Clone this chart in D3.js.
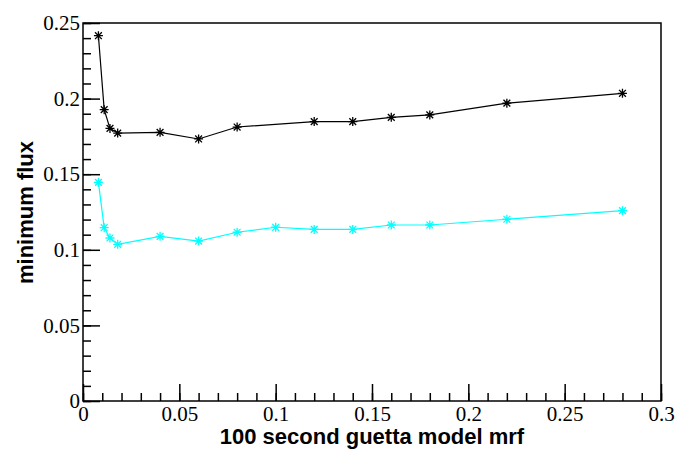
<!DOCTYPE html>
<html><head><meta charset="utf-8">
<script src="https://cdn.jsdelivr.net/npm/d3@7"></script>
<style>body{margin:0;background:#fff}svg{display:block}</style>
</head><body>
<svg id="c" width="696" height="472"></svg>
<script>
const xBlack = [0.008, 0.011, 0.014, 0.018, 0.04, 0.06, 0.08, 0.12, 0.14, 0.16, 0.18, 0.22, 0.28];
const yBlack = [0.2416, 0.1927, 0.1803, 0.1772, 0.1777, 0.1733, 0.1812, 0.1848, 0.1848, 0.1876, 0.1892, 0.197, 0.2035];
const xCyan = [0.008, 0.011, 0.014, 0.018, 0.04, 0.06, 0.08, 0.1, 0.12, 0.14, 0.16, 0.18, 0.22, 0.28];
const yCyan = [0.1446, 0.1146, 0.1078, 0.1036, 0.1089, 0.1058, 0.1116, 0.1149, 0.1135, 0.1135, 0.1164, 0.1164, 0.1202, 0.1259];
const xTicks = [0, 0.05, 0.1, 0.15, 0.2, 0.25, 0.3];
const xTickLabels = ["0", "0.05", "0.1", "0.15", "0.2", "0.25", "0.3"];
const yTicks = [0, 0.05, 0.1, 0.15, 0.2, 0.25];
const yTickLabels = ["0", "0.05", "0.1", "0.15", "0.2", "0.25"];
const xLabel = "100 second guetta model mrf";
const yLabel = "minimum flux";

const SERIF = "'Liberation Serif', 'Times New Roman', serif";
const SANS = "'Liberation Sans', Arial, sans-serif";

const svg = d3.select("#c");
const L = 83, R = 661, T = 23, B = 401;
const x = d3.scaleLinear().domain([0, 0.3]).range([L, R]);
const y = d3.scaleLinear().domain([0, 0.25]).range([B, T]);
const minorX = d3.range(0, 0.3001, 0.01).map(v => +v.toFixed(2));
const minorY = d3.range(0, 0.2501, 0.01).map(v => +v.toFixed(2));

// minor ticks
svg.append("g").attr("transform", `translate(0,${B})`)
  .call(d3.axisBottom(x).tickValues(minorX).tickSize(-8).tickFormat(""))
  .call(g => g.select(".domain").remove())
  .selectAll("line").attr("stroke", "#000").attr("stroke-width", 1.5);
svg.append("g").attr("transform", `translate(${L},0)`)
  .call(d3.axisLeft(y).tickValues(minorY).tickSize(-8).tickFormat(""))
  .call(g => g.select(".domain").remove())
  .selectAll("line").attr("stroke", "#000").attr("stroke-width", 1.5);

// major ticks with labels
const gx = svg.append("g").attr("transform", `translate(0,${B})`)
  .call(d3.axisBottom(x).tickValues(xTicks).tickSize(-17).tickPadding(0)
    .tickFormat((d, i) => xTickLabels[i]));
gx.select(".domain").remove();
gx.selectAll("line").attr("stroke", "#000").attr("stroke-width", 1.5);
gx.selectAll("text").attr("y", 20).attr("dy", 0)
  .style("font-family", SERIF).style("font-size", "21px").attr("fill", "#000");

const gy = svg.append("g").attr("transform", `translate(${L},0)`)
  .call(d3.axisLeft(y).tickValues(yTicks).tickSize(-17).tickPadding(0)
    .tickFormat((d, i) => yTickLabels[i]));
gy.select(".domain").remove();
gy.selectAll("line").attr("stroke", "#000").attr("stroke-width", 1.5);
gy.selectAll("text").attr("x", -3).attr("dy", "0.32em")
  .style("font-family", SERIF).style("font-size", "21px").attr("fill", "#000");

// frame
svg.append("rect").attr("x", L).attr("y", T).attr("width", R - L).attr("height", B - T)
  .attr("fill", "none").attr("stroke", "#000").attr("stroke-width", 1.5);

function series(xs, ys, color) {
  const pts = xs.map((v, i) => [v, ys[i]]);
  svg.append("path").datum(pts)
    .attr("d", d3.line().x(d => x(d[0])).y(d => y(d[1])))
    .attr("fill", "none").attr("stroke", color).attr("stroke-width", 1.2);
  const r = 4.5, q = 3.4;
  svg.append("g").selectAll("path").data(pts).join("path")
    .attr("transform", d => `translate(${x(d[0])},${y(d[1])})`)
    .attr("d", `M${-r},0L${r},0M0,${-r}L0,${r}M${-q},${-q}L${q},${q}M${-q},${q}L${q},${-q}`)
    .attr("stroke", color).attr("stroke-width", 1.3).attr("fill", "none");
}
series(xBlack, yBlack, "#000");
series(xCyan, yCyan, "#00ffff");

svg.append("text").attr("x", (L + R) / 2).attr("y", 444)
  .attr("text-anchor", "middle").style("font-family", SANS).style("font-weight", "bold")
  .style("font-size", "22px").attr("fill", "#000").text(xLabel);
svg.append("text").attr("transform", `translate(33,212.5) rotate(-90)`)
  .attr("text-anchor", "middle").style("font-family", SANS).style("font-weight", "bold")
  .style("font-size", "22px").attr("fill", "#000").text(yLabel);
</script>
</body></html>
